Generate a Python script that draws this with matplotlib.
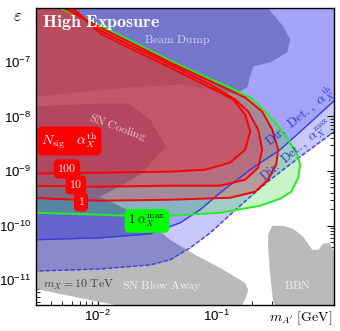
import numpy as np
import matplotlib
matplotlib.use("Agg")
import matplotlib.pyplot as plt

plt.rcParams["font.family"] = ["Liberation Sans", "DejaVu Sans"]
plt.rcParams["mathtext.fontset"] = "custom"
plt.rcParams["mathtext.rm"] = "Liberation Sans"
plt.rcParams["mathtext.it"] = "Liberation Sans:italic"
plt.rcParams["mathtext.bf"] = "Liberation Sans:bold"

# DATOS (log10 de m_A' [GeV] y log10 de epsilon)

# Dir. Det. alpha_X^max (linea discontinua) y alpha_X^th (linea continua)
dash_logm = [-2.6, -1.981, -1.558, -1.389, -1.219, -1.050, -0.881, -0.711, -0.542, -0.288, 0.02]
dash_logeps = [-10.84, -10.795, -10.721, -10.629, -10.409, -10.134, -9.802, -9.472, -9.160, -8.737, -8.246]
solid_logm = [-2.6, -1.981, -1.558, -1.304, -1.135, -0.965, -0.711, -0.457, -0.203, 0.02]
solid_logeps = [-10.265, -10.225, -10.152, -9.950, -9.711, -9.398, -8.976, -8.609, -8.113, -7.67]

# Beam Dump
dump_logm = [-2.6, -2.523, -1.727, -1.304, -1.050, -0.838, -0.737, -0.711, -0.686, -0.542,
             -0.398, -0.373, -0.432, -0.567, -0.60, -2.6]
dump_logeps = [-7.635, -7.635, -7.470, -7.415, -7.506, -7.598, -7.470, -7.268, -7.084, -7.010,
               -6.827, -6.588, -6.349, -6.000, -5.88, -5.88]

# SN Blow Away
blow_logm = [-2.523, -2.320, -2.066, -1.854, -0.796, -0.779, -0.745, -0.728, -0.754, -0.838,
             -0.965, -1.160, -1.389, -1.617, -1.981, -1.643, -1.422, -1.558, -1.736, -1.981, -2.523]
blow_logeps = [-11.162, -11.253, -11.364, -11.456, -11.456, -11.456, -11.308, -11.180, -11.052, -10.942,
               -10.776, -10.556, -10.262, -9.857, -9.472, -9.068, -8.553, -8.057, -7.764, -7.764, -7.819]

# BBN
bbn_logm = [-0.483, -0.517, -0.542, -0.559, -0.559, -0.525, -0.432, -0.347, -0.262, -0.186,
            -0.135, -0.093, -0.042, 0.0, 0.05, 0.05]
bbn_logeps = [-11.5, -11.401, -10.905, -10.409, -10.170, -10.005, -10.005, -10.060, -10.207, -10.445,
              -10.445, -10.335, -10.317, -10.482, -10.63, -11.5]

# Contorno N=1 con alpha_X^max (verde)
green_logm = [-2.6, -2.523, -1.981, -1.558, -0.965, -0.627, -0.457, -0.364, -0.305, -0.288, -0.313,
              -0.389, -0.483, -0.601, -0.711, -0.881, -1.135, -1.389, -1.727, -1.981, -2.337, -2.46, -2.6]
green_logeps = [-9.766, -9.766, -9.802, -9.839, -9.766, -9.637, -9.508, -9.380, -9.123, -8.884, -8.700,
                -8.425, -8.149, -7.874, -7.653, -7.470, -7.231, -6.974, -6.606, -6.331, -6.000, -5.88, -5.88]

# Contornos N_sig = 1, 10, 100 con alpha_X^th (rojo)
n1_logm = [-2.6, -1.981, -1.389, -0.881, -0.669, -0.559, -0.491, -0.474, -0.525, -0.610, -0.754,
           -1.008, -1.389, -1.727, -1.981, -2.303, -2.41, -2.6]
n1_logeps = [-9.49, -9.545, -9.527, -9.490, -9.380, -9.160, -8.884, -8.609, -8.241, -7.910, -7.653,
             -7.396, -7.010, -6.643, -6.367, -6.000, -5.88, -5.88]
n10_logm = [-2.6, -1.981, -1.389, -0.965, -0.754, -0.643, -0.610, -0.643, -0.728, -0.838, -1.050,
            -1.389, -1.727, -1.981, -2.261, -2.36, -2.6]
n10_logeps = [-9.27, -9.288, -9.270, -9.270, -9.160, -8.939, -8.609, -8.241, -7.910, -7.690, -7.415,
              -7.047, -6.698, -6.423, -6.000, -5.88, -5.88]
n100_logm = [-2.6, -1.981, -1.389, -1.092, -0.881, -0.754, -0.711, -0.754, -0.855, -1.050,
             -1.389, -1.727, -1.981, -2.218, -2.31, -2.6]
n100_logeps = [-9.05, -9.031, -9.013, -8.976, -8.847, -8.609, -8.278, -7.966, -7.690, -7.470,
               -7.102, -6.753, -6.478, -6.000, -5.88, -5.88]

contour_labels = ["100", "10", "1"]
xticks_vals = [1e-2, 1e-1]
yticks_vals = [1e-11, 1e-10, 1e-9, 1e-8, 1e-7]

def L(v):
    return 10.0 ** np.array(v)

# GRAFICA

fig = plt.figure(figsize=(3.4, 3.31), dpi=100)
ax = fig.add_axes([36/340, 26/331, 298/340, 297/331])
ax.set_xscale("log")
ax.set_yscale("log")
ax.set_xlim(3e-3, 0.995)
ax.set_ylim(10**-11.456, 0.97e-6)

# regiones azules
ax.fill_between(L(dash_logm), L(dash_logeps), 1e-5, color="#c8c8fa", lw=0, zorder=1)
ax.fill_between(L(solid_logm), L(solid_logeps), 1e-5, color="#a4a4f8", lw=0, zorder=2)
ax.fill(L(dump_logm), L(dump_logeps), color="#7575cc", lw=0, zorder=3)

# regiones grises
blow = ax.fill(L(blow_logm), L(blow_logeps), color="#bababa", lw=0, zorder=4)[0]
ax.fill(L(bbn_logm), L(bbn_logeps), color="#bababa", lw=0, zorder=4)
for lm, le, col in [(dash_logm, dash_logeps, "#8a8ac8"), (solid_logm, solid_logeps, "#6464cc")]:
    c = ax.fill_between(L(lm), L(le), 1e-5, color=col, lw=0, zorder=5)
    c.set_clip_path(blow)
    c.set_clip_box(ax.bbox)

# contornos
ax.fill(L(green_logm), L(green_logeps), color=(60/255, 220/255, 60/255), alpha=0.28, lw=0, zorder=6)
for lm, le in [(n1_logm, n1_logeps), (n10_logm, n10_logeps), (n100_logm, n100_logeps)]:
    ax.fill(L(lm), L(le), color=(230/255, 40/255, 60/255), alpha=0.295, lw=0, zorder=7)

ax.plot(L(dash_logm), L(dash_logeps), color="#3a3ae6", lw=1.0, ls=(0, (3, 1.5)), zorder=8)
ax.plot(L(solid_logm), L(solid_logeps), color="#3a3ae6", lw=1.0, zorder=8)
ax.plot(L(green_logm), L(green_logeps), color="#22ee22", lw=1.4, zorder=9)
for lm, le in [(n1_logm, n1_logeps), (n10_logm, n10_logeps), (n100_logm, n100_logeps)]:
    ax.plot(L(lm), L(le), color="#ff0000", lw=1.4, zorder=10)

# TEXTOS

cm = dict(math_fontfamily="cm", transform=ax.transAxes, zorder=12)
ax.text(0.020, 0.936, r"$\mathbf{High\ Exposure}$", color="white", fontsize=13, ha="left", va="baseline", **cm)
ax.text(0.473, 0.892, r"$\mathrm{Beam\ Dump}$", color="#d0d0f2", fontsize=8.5, ha="center", va="center", **cm)
ax.text(0.275, 0.596, r"$\mathrm{SN\ Cooling}$", color="#ecc6cc", fontsize=8.5, ha="center", va="center", rotation=-20, **cm)
ax.text(0.887, 0.635, r"$\mathrm{Dir.\ Det.,}\ \alpha_X^{\rm th}$", color="#3030d0", fontsize=9.5, ha="center", va="center", rotation=39, **cm)
ax.text(0.877, 0.518, r"$\mathrm{Dir.\ Det.,}\ \alpha_X^{\rm max}$", color="#3030d0", fontsize=9, ha="center", va="center", rotation=40, **cm)
ax.text(0.141, 0.067, r"$m_X = 10\ \mathrm{TeV}$", color="#404040", fontsize=8.5, ha="center", va="center", **cm)
ax.text(0.423, 0.064, r"$\mathrm{SN\ Blow\ Away}$", color="#f2f2f2", fontsize=8.5, ha="center", va="center", **cm)
ax.text(0.879, 0.064, r"$\mathrm{BBN}$", color="#eeeeee", fontsize=8.5, ha="center", va="center", **cm)

red_box = dict(boxstyle="round,pad=0.3,rounding_size=0.4", fc="#ff0000", ec="none")
ax.text(0.111, 0.552, r"$N_{\rm sig}\ \ \ \alpha_X^{\rm th}$", color="white", fontsize=10, ha="center", va="center", bbox=red_box, **cm)
for lab, (px, py) in zip(contour_labels, [(0.104, 0.458), (0.134, 0.404), (0.151, 0.347)]):
    ax.text(px, py, r"$\mathrm{%s}$" % lab, color="white", fontsize=8.5, ha="center", va="center", bbox=red_box, **cm)
ax.text(0.372, 0.283, r"$1\ \alpha_X^{\rm max}$", color="black", fontsize=9, ha="center", va="center",
        bbox=dict(boxstyle="round,pad=0.3,rounding_size=0.4", fc="#00ff00", ec="none"), **cm)

fig.text(0.053, 0.949, r"$\varepsilon$", fontsize=12, ha="center", va="center", math_fontfamily="cm")
fig.text(0.979, 0.039, r"$m_{A^\prime}\ [\mathrm{GeV}]$", fontsize=10, ha="right", va="center", math_fontfamily="cm")

ax.set_xticks(xticks_vals)
ax.set_yticks(yticks_vals)
ax.tick_params(which="both", direction="in", top=True, right=True, labelsize=9.5)
ax.tick_params(which="major", length=5, width=0.8)
ax.tick_params(which="minor", length=3, width=0.6)
ax.tick_params(axis="y", pad=3.5)
ax.tick_params(axis="x", pad=3)
for s in ax.spines.values():
    s.set_linewidth(1.0)
    s.set_zorder(20)

fig.savefig("out.png", dpi=100)
